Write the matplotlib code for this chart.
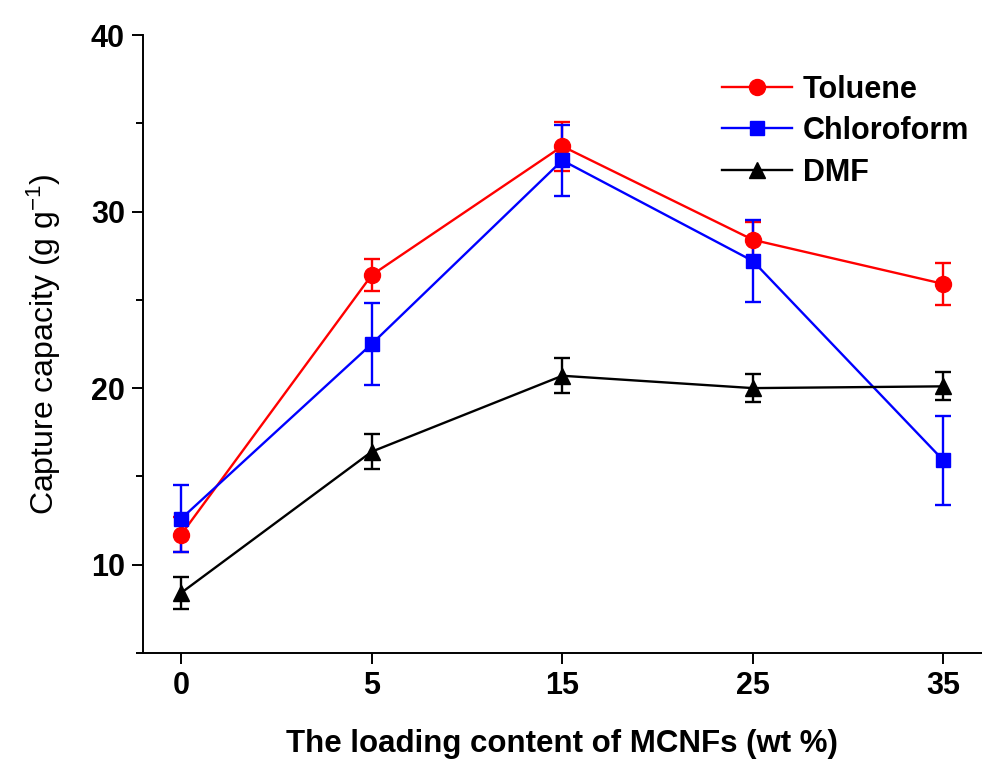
import matplotlib
matplotlib.use("Agg")
import matplotlib.pyplot as plt
from matplotlib.ticker import MultipleLocator

plt.rcParams['font.family'] = ['Liberation Sans', 'DejaVu Sans']
plt.rcParams['mathtext.default'] = 'regular'

# data
loading = ['0', '5', '15', '25', '35']
toluene = [11.7, 26.4, 33.7, 28.4, 25.9]
toluene_err = [1.0, 0.9, 1.4, 1.0, 1.2]
chloroform = [12.6, 22.5, 32.9, 27.2, 15.9]
chloroform_err = [1.9, 2.3, 2.0, 2.3, 2.5]
dmf = [8.4, 16.4, 20.7, 20.0, 20.1]
dmf_err = [0.9, 1.0, 1.0, 0.8, 0.8]

series = [
    ('Toluene', toluene, toluene_err, 'red', 'o', 11.5),
    ('Chloroform', chloroform, chloroform_err, 'blue', 's', 10),
    ('DMF', dmf, dmf_err, 'black', '^', 11.5),
]

fig = plt.figure(figsize=(9.82, 7.61), dpi=100)
ax = fig.add_axes([0.1456, 0.142, 0.854, 0.812])

x = list(range(len(loading)))
handles = []
for name, vals, errs, color, marker, ms in series:
    ax.errorbar(x, vals, yerr=errs, fmt='none', ecolor=color, elinewidth=1.7,
                capsize=6, capthick=1.7, zorder=2)
    h, = ax.plot(x, vals, color=color, lw=1.7, marker=marker, markersize=ms,
                 markeredgecolor=color, markerfacecolor=color, label=name, zorder=3)
    handles.append(h)

ax.set_xlim(-0.2, 4.2)
ax.set_ylim(5, 40)
ax.set_xticks(x)
ax.set_xticklabels(loading)
ax.yaxis.set_major_locator(MultipleLocator(10))
ax.yaxis.set_minor_locator(MultipleLocator(5))
ax.set_yticks([10, 20, 30, 40])

for side in ['top', 'right']:
    ax.spines[side].set_visible(False)
for side in ['left', 'bottom']:
    ax.spines[side].set_linewidth(1.4)

ax.tick_params(axis='both', which='major', direction='out', length=8, width=1.4,
               labelsize=22, pad=5)
ax.tick_params(axis='y', which='minor', direction='out', length=5, width=1.4)
for lbl in ax.get_xticklabels() + ax.get_yticklabels():
    lbl.set_fontweight('bold')

ax.set_xlabel('The loading content of MCNFs (wt %)', fontsize=22.5, fontweight='bold',
              labelpad=20)
ax.set_ylabel('Capture capacity (g g$^{-1}$)', fontsize=23, labelpad=20)

ax.legend(handles=handles, loc='upper left', bbox_to_anchor=(0.735, 0.902),
          bbox_transform=fig.transFigure, borderaxespad=0, borderpad=0,
          frameon=False, prop={'size': 22, 'weight': 'bold'}, handlelength=2.3,
          handletextpad=0.35, labelspacing=0.38)

fig.savefig('out.png', dpi=100, facecolor='white')
